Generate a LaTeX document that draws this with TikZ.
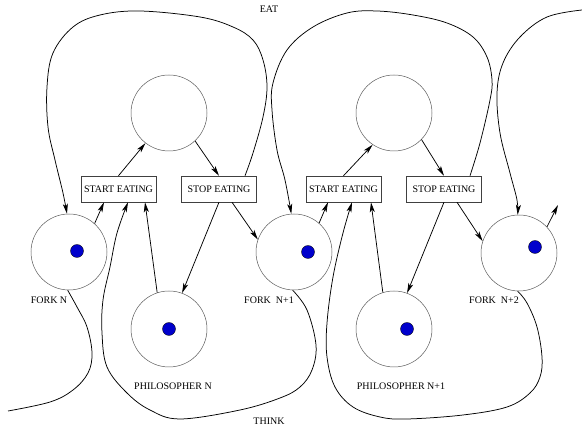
\documentclass[tikz,border=0pt]{standalone}
\usepackage{fontspec}
\setmainfont{Liberation Serif}
\usetikzlibrary{arrows.meta,calc}
\definecolor{tokblue}{RGB}{0,0,204}
\begin{document}
\begin{tikzpicture}[x=1pt,y=1pt,
  place/.style={circle,draw=black!65,line width=0.5pt,minimum size=76pt,inner sep=0pt},
  trans/.style={rectangle,draw=black!75,line width=0.5pt,minimum width=75pt,minimum height=26pt,inner sep=1pt,font=\fontsize{10}{12}\selectfont},
  token/.style={circle,fill=tokblue,draw=black,line width=0.3pt,minimum size=13pt,inner sep=0pt},
  lbl/.style={font=\fontsize{10}{12}\selectfont,inner sep=0pt},
  arc/.style={line width=0.75pt,-{Stealth[length=10pt,width=5pt,inset=2.5pt]}},
  plainarc/.style={line width=0.75pt}]
\useasboundingbox (0,0) rectangle (582,427);
% places and transitions
\node[place] (topN) at (169,314) {};
\node[place] (topN1) at (394,314) {};
\node[trans] (startN) at (118.5,238) {START EATING};
\node[trans] (stopN) at (219,238) {STOP EATING};
\node[trans] (startN1) at (343.5,238) {START EATING};
\node[trans] (stopN1) at (444,238) {STOP EATING};
\node[place] (forkN) at (69,175) {};
\node[place] (philN) at (169,98) {};
\node[place] (forkN1) at (294,175) {};
\node[place] (philN1) at (394,98) {};
\node[place] (forkN2) at (519,174) {};
% tokens
\node[token] (tkN) at (77,176) {};
\node[token] (tkP) at (169,98) {};
\node[token] (tkN1) at (308,175) {};
\node[token] (tkP1) at (407,98) {};
\node[token] (tkN2) at (535,180) {};
% labels
\node[lbl] (eat) at (269,418) {EAT};
\node[lbl] (think) at (269,6) {THINK};
\node[lbl] (lfN) at (49,127) {FORK N};
\node[lbl] (lfN1) at (269,127) {FORK\ \ N+1};
\node[lbl] (lfN2) at (494,127) {FORK\ \ N+2};
\node[lbl] (lpN) at (173,41) {PHILOSOPHER N};
\node[lbl] (lpN1) at (401,41) {PHILOSOPHER N+1};
% helper coordinates
\coordinate (sN1) at ($(startN.south)+(-14.5,0)$);
\coordinate (sN2) at ($(startN.south)+(9.5,0)$);
\coordinate (sN3) at ($(startN.south)+(26.5,0)$);
\coordinate (tN) at ($(stopN.south)+(13,0)$);
\coordinate (eN) at ($(stopN.north)+(26,0)$);
\coordinate (sM1) at ($(startN1.south)+(-15.5,0)$);
\coordinate (sM2) at ($(startN1.south)+(8.5,0)$);
\coordinate (sM3) at ($(startN1.south)+(27.5,0)$);
\coordinate (tM) at ($(stopN1.south)+(13,0)$);
\coordinate (eM) at ($(stopN1.north)+(26,0)$);
\coordinate (freeA) at (558,222);
\coordinate (freeB) at (582,417);
\coordinate (freeC) at (8,16);
% philosopher N
\draw[arc] (startN.north) -- (topN.232);
\draw[arc] (topN.313) -- (stopN.north);
\draw[arc] (stopN.south) -- (philN.70);
\draw[arc] (tN) -- (forkN1.161);
\draw[arc] (forkN.48) -- (sN1);
\draw[arc] (philN.108) -- (sN3);
% philosopher N+1
\draw[arc] (startN1.north) -- (topN1.236);
\draw[arc] (topN1.316) -- (stopN1.north);
\draw[arc] (stopN1.south) -- (philN1.70);
\draw[arc] (tM) -- (forkN2.162);
\draw[arc] (forkN1.49) -- (sM1);
\draw[arc] (philN1.107) -- (sM3);
\draw[arc] (forkN2.43) -- (freeA);
% EAT curves
\draw[arc] plot[smooth,tension=0.6] coordinates {(eN) (253,274) (263,310) (267,340) (263,367) (253,387) (233,400) (200,410) (140,416) (100,412) (73,400) (53,374) (47,340) (48,300) (55,267) (63,234) (forkN.93)};
\draw[arc] plot[smooth,tension=0.6] coordinates {(eM) (480,284) (490,327) (492,347) (487,370) (473,390) (447,404) (413,412) (377,416) (347,414) (313,400) (287,377) (273,344) (272,317) (277,277) (285,247) (forkN1.94)};
\draw[arc] plot[smooth,tension=0.6] coordinates {(freeB) (547,410) (520,390) (503,364) (497,334) (500,294) (510,254) (517,227) (forkN2.92)};
% THINK curves
\draw[plainarc] plot[smooth,tension=0.6] coordinates {(forkN.268) (77,120) (87,100) (92,74) (88,54) (73,37) (50,25) (freeC)};
\draw[arc] plot[smooth,tension=0.6] coordinates {(forkN1.268) (307,117) (316,82) (312,57) (300,40) (280,29) (240,17) (180,8) (150,17) (127,34) (107,60) (102,94) (103,127) (110,160) (117,194) (sN2)};
\draw[arc] plot[smooth,tension=0.6] coordinates {(forkN2.268) (527,124) (537,100) (542,70) (540,50) (530,34) (507,20) (463,12) (407,8) (380,10) (353,20) (335,40) (327,70) (327,104) (333,150) (343,194) (sM2)};
\end{tikzpicture}
\end{document}
